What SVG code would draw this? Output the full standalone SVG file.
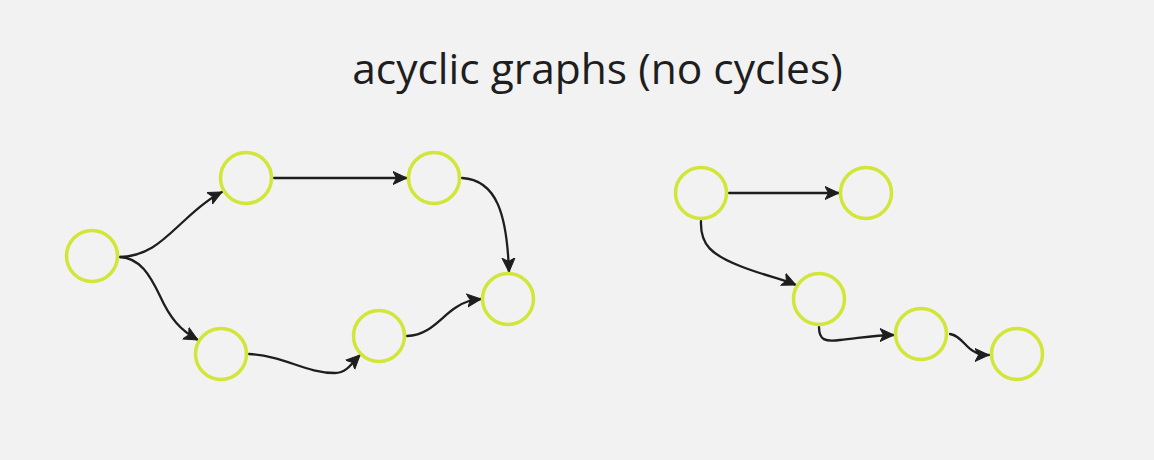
<svg xmlns="http://www.w3.org/2000/svg" width="1154" height="460" viewBox="0 0 1154 460">
<defs>
<style>
.node{fill:none;stroke:#d2e63a;stroke-width:3.5}
.edge{fill:none;stroke:#1e1e1e;stroke-width:2.3;stroke-linecap:round;marker-end:url(#arr)}
.title{font-family:"Open Sans","Noto Sans",sans-serif;font-size:42.5px;fill:#1e1e1e;text-anchor:middle}
</style>
<marker id="arr" markerUnits="userSpaceOnUse" markerWidth="16" markerHeight="16" viewBox="0 0 16 16" refX="14" refY="8" orient="auto">
<path d="M0,1.5 L14,8 L0,14.5 L3.5,8 z" fill="#1e1e1e" stroke="#1e1e1e" stroke-width="1" stroke-linejoin="round"/>
</marker>
</defs>
<rect width="1154" height="460" fill="#f2f2f2"/>
<text class="title" x="597.5" y="84">acyclic graphs (no cycles)</text>
<g id="connectors">
<path class="edge" d="M120,257 C150,256 165,238 185,220 C200,206 210,198 222,192"/>
<path class="edge" d="M120,257 C140,258 150,275 160,296 C170,318 180,330 198,340"/>
<path class="edge" d="M274,178 L407,178"/>
<path class="edge" d="M462,178 C497,180 507,215 509,272"/>
<path class="edge" d="M249,354 C285,356 305,373 335,373 C347,373 353,362 360,355"/>
<path class="edge" d="M407,336 C430,335 440,318 455,308 C465,301 472,300 481,299"/>
<path class="edge" d="M729,193 L839,193"/>
<path class="edge" d="M701,221 C700,245 712,255 740,266 C765,276 780,278 796,285"/>
<path class="edge" d="M819,327 C819,340 825,342 840,340 C860,338 875,335 894,335"/>
<path class="edge" d="M950,334 C962,336 965,348 975,352 C980,355 985,355 989,355"/>
</g>
<g id="n1"><circle class="node" cx="92" cy="256" r="25.5"/></g>
<g id="n2"><circle class="node" cx="246" cy="178" r="25.5"/></g>
<g id="n3"><circle class="node" cx="434" cy="178" r="25.5"/></g>
<g id="n4"><circle class="node" cx="508" cy="299" r="25.5"/></g>
<g id="n5"><circle class="node" cx="221" cy="354" r="25.5"/></g>
<g id="n6"><circle class="node" cx="379" cy="336" r="25.5"/></g>
<g id="n7"><circle class="node" cx="701" cy="193" r="25.5"/></g>
<g id="n8"><circle class="node" cx="866" cy="193" r="25.5"/></g>
<g id="n9"><circle class="node" cx="819" cy="299" r="25.5"/></g>
<g id="n10"><circle class="node" cx="921" cy="334" r="25.5"/></g>
<g id="n11"><circle class="node" cx="1017" cy="354" r="25.5"/></g>
</svg>
